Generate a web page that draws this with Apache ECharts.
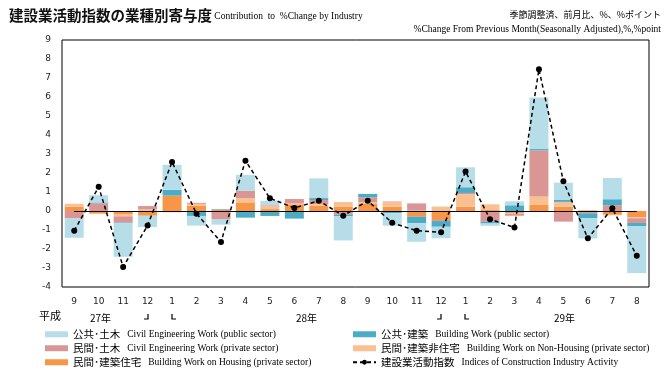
<!DOCTYPE html>
<html><head><meta charset="utf-8">
<script src="https://cdn.jsdelivr.net/npm/echarts@6/dist/echarts.min.js"></script>
<style>html,body{margin:0;padding:0;background:#fff}#c{width:670px;height:374px}</style>
</head><body><div id="c"></div>
<script>
var categories = ['9','10','11','12','1','2','3','4','5','6','7','8','9','10','11','12','1','2','3','4','5','6','7','8'];
var housing      = [0.23,-0.14,-0.16,-0.25,0.81,0.28,0.07,0.42,0.10,0.35,0.28,0.23,0.37,0.23,-0.30,-0.47,0.23,0.05,-0.10,0.32,0.23,0.03,-0.20,-0.33];
var nonHousing   = [0.15,0.00,-0.12,0.08,-0.07,0.10,0.00,0.25,0.15,0.05,0.09,0.24,0.10,0.23,0.02,0.23,0.65,0.30,-0.05,0.44,0.25,0.00,-0.03,-0.05];
var civilPrivate = [-0.39,0.40,-0.33,0.18,0.00,0.05,-0.42,0.39,0.05,0.23,0.21,-0.19,0.25,0.04,0.38,-0.06,0.07,-0.56,-0.10,2.43,-0.56,-0.12,0.30,-0.25];
var buildPublic  = [0.00,0.05,-0.04,0.00,0.30,-0.26,0.03,-0.35,-0.26,-0.40,0.10,-0.09,0.18,-0.12,-0.35,-0.30,0.30,-0.10,0.30,0.07,0.10,-0.25,0.32,-0.18];
var civilPublic  = [-1.02,0.38,-1.76,-0.60,1.32,-0.51,-0.30,0.84,0.23,0.00,1.04,-1.27,0.00,-0.65,-0.97,-0.60,1.05,-0.12,0.21,2.72,0.91,-1.07,1.12,-2.46];
var indexTotal   = [-1.04,1.27,-2.95,-0.76,2.58,-0.14,-1.63,2.65,0.67,0.16,0.54,-0.25,0.54,-0.62,-1.04,-1.12,2.08,-0.43,-0.87,7.46,1.56,-1.44,0.14,-2.36];
var yTicks = {min:-4, max:9, interval:1};
var names = {
  cu:['公共･土木','Civil Engineering Work (public sector)'],
  bp:['公共･建築','Building Work (public sector)'],
  cp:['民間･土木','Civil Engineering Work (private sector)'],
  nh:['民間･建築非住宅','Building Work on Non-Housing (private sector)'],
  h:['民間･建築住宅','Building Work on Housing (private sector)'],
  idx:['建設業活動指数','Indices of Construction Industry Activity']
};
var eng = {};
Object.keys(names).forEach(function(k){eng[names[k][0]] = names[k][1];});

var JP = '"Noto Sans CJK JP"';
var SERIF = '"Liberation Serif"';
var chart = echarts.init(document.getElementById('c'), null, {renderer:'canvas'});
function bar(name, data, color){
  return {name:name, type:'bar', stack:'s', data:data, barWidth:19,
    itemStyle:{color:color}, emphasis:{disabled:true}};
}
var legendText = {
  fontSize:10, fontFamily:JP, color:'#000',
  rich:{a:{fontSize:10.5,fontFamily:JP,color:'#000',padding:[0,7,0,0]}, b:{fontSize:9.5,fontFamily:SERIF,color:'#000'}}
};
function fmt(n){return '{a|'+n+'}{b|'+eng[n]+'}';}
var series = [
  bar(names.h[0], housing, '#F79646'),
  bar(names.nh[0], nonHousing, '#FAC090'),
  bar(names.cp[0], civilPrivate, '#D99694'),
  bar(names.bp[0], buildPublic, '#4BACC6'),
  bar(names.cu[0], civilPublic, '#B7DEE8'),
  {name:names.idx[0], type:'line', data:indexTotal, z:10,
   lineStyle:{color:'#000', width:1.5, type:[4,3]}, itemStyle:{color:'#000'},
   symbol:'circle', symbolSize:6, showSymbol:true},
  {type:'line', data:[], silent:true,
   markLine:{silent:true, symbol:'none', z:8, label:{show:false},
     lineStyle:{color:'#000', width:1.2, type:'solid'},
     data:[[{xAxis:0, yAxis:0},{xAxis:categories.length-1, yAxis:0}]]}}
];
chart.setOption({
  animation:false,
  backgroundColor:'#fff',
  title:[
    {left:4, top:3, text:'{a|建設業活動指数の業種別寄与度}{b| Contribution  to  %Change by Industry}',
     textStyle:{fontWeight:'normal', rich:{a:{fontSize:14.5,fontFamily:JP,fontWeight:'bold',color:'#111'}, b:{fontSize:9.5,fontFamily:SERIF,fontWeight:'normal',color:'#000',padding:[2,0,0,0]}}}},
    {right:4, top:5, text:'季節調整済、前月比、%、%ポイント', textStyle:{fontSize:9,fontFamily:JP,fontWeight:'normal',color:'#000'}},
    {right:4, top:19, text:'%Change From Previous Month(Seasonally Adjusted),%,%point', textStyle:{fontSize:9.5,fontFamily:SERIF,fontWeight:'normal',color:'#000'}}
  ],
  grid:{left:62, right:21, top:40, bottom:87, show:true, borderColor:'#000', borderWidth:1, backgroundColor:'transparent'},
  xAxis:{type:'category', data:categories, axisLine:{show:false}, axisTick:{show:false},
    axisLabel:{margin:10, fontSize:9, fontFamily:'"DejaVu Sans"', color:'#222', interval:0}},
  yAxis:{type:'value', min:yTicks.min, max:yTicks.max, interval:yTicks.interval, splitLine:{show:false},
    axisLine:{show:false}, axisTick:{show:false},
    axisLabel:{margin:11, fontSize:9, fontFamily:'"DejaVu Sans"', color:'#222'}},
  legend:[
    {orient:'vertical', left:45, top:329, padding:0, itemWidth:23, itemHeight:6, itemGap:3.5, icon:'rect',
     data:[names.cu[0], names.cp[0], names.h[0]], formatter:fmt, textStyle:legendText, selectedMode:false},
    {orient:'vertical', left:352, top:329, padding:0, itemWidth:23, itemHeight:6, itemGap:3.5,
     data:[{name:names.bp[0],icon:'rect'},{name:names.nh[0],icon:'rect'},{name:names.idx[0]}], formatter:fmt, textStyle:legendText, selectedMode:false}
  ],
  graphic:[
    {type:'text', left:39, top:310, style:{text:'平成', fontSize:11, fontFamily:JP, fill:'#000'}},
    {type:'text', left:90, top:313, style:{text:'27年', fontSize:10, fontFamily:JP, fill:'#000'}},
    {type:'text', left:296, top:313, style:{text:'28年', fontSize:10, fontFamily:JP, fill:'#000'}},
    {type:'text', left:554, top:313, style:{text:'29年', fontSize:10, fontFamily:JP, fill:'#000'}},
    {type:'polyline', shape:{points:[[144,319],[148,319],[148,314]]}, style:{stroke:'#000', lineWidth:1.2, fill:null}},
    {type:'polyline', shape:{points:[[172,314],[172,319],[176,319]]}, style:{stroke:'#000', lineWidth:1.2, fill:null}},
    {type:'polyline', shape:{points:[[437,319],[441,319],[441,314]]}, style:{stroke:'#000', lineWidth:1.2, fill:null}},
    {type:'polyline', shape:{points:[[465,314],[465,319],[469,319]]}, style:{stroke:'#000', lineWidth:1.2, fill:null}}
  ],
  series:series
});
</script></body></html>
